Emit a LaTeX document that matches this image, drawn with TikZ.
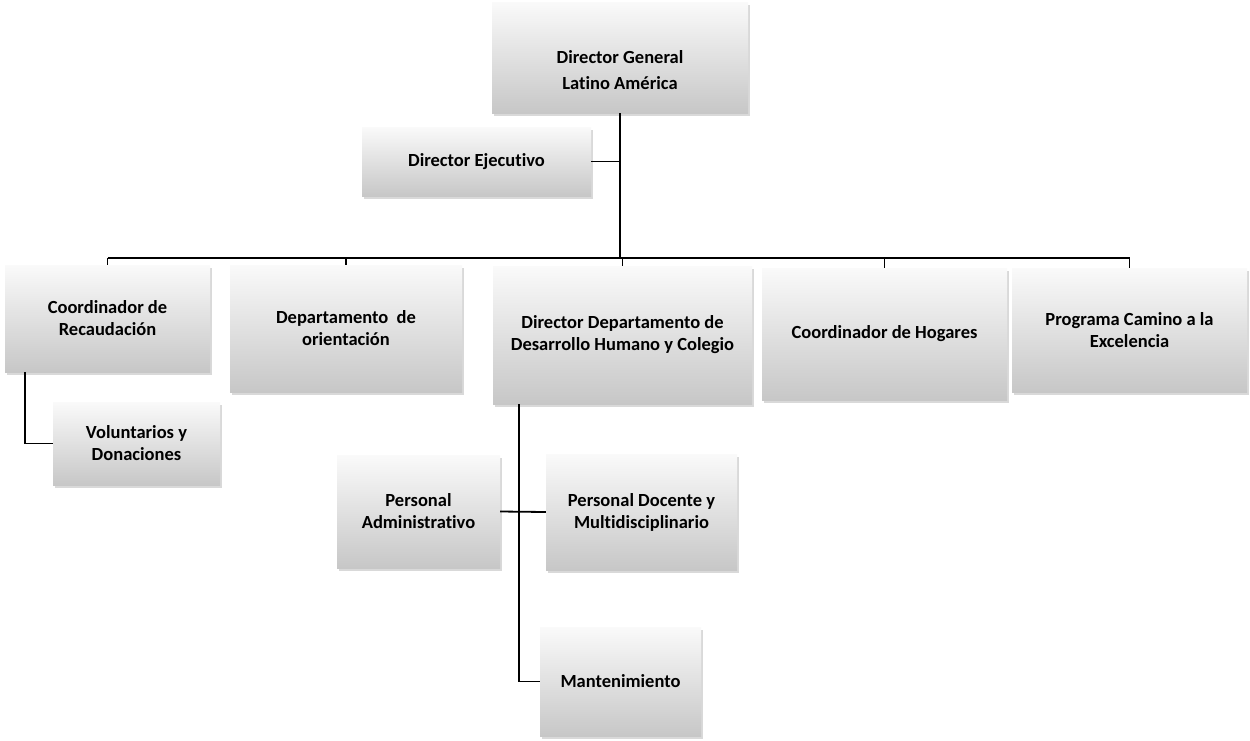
\documentclass[tikz,border=0pt]{standalone}
\usepackage{fontspec}
\setmainfont{Carlito}[Ligatures=NoCommon]
\usetikzlibrary{shadows}
\begin{document}
\begin{tikzpicture}[x=1pt,y=-1pt,
  box/.style={rectangle, draw=none, top color=black!2, bottom color=black!22,
    font=\fontsize{18.5}{22}\selectfont\bfseries, align=center, inner sep=3pt,
    drop shadow={shadow xshift=2pt, shadow yshift=-3pt, opacity=0.25, fill=black!60}},
  link/.style={line width=1.8pt, black}]
\useasboundingbox (0,0) rectangle (1250,740);

\node[box, minimum width=256pt, minimum height=111pt, font=\fontsize{18.5}{26}\selectfont\bfseries] (dg) at (620,57.5) {\rule{0pt}{38pt}Director General\\Latino América};
\node[box, minimum width=229pt, minimum height=69pt] (de) at (476.5,161.5) {Director Ejecutivo};
\node[box, minimum width=205pt, minimum height=107pt] (cr) at (107.5,318.5) {Coordinador de\\Recaudación};
\node[box, minimum width=232pt, minimum height=127pt] (do) at (346,328.5) {Departamento \ de\\orientación};
\node[box, minimum width=259pt, minimum height=138pt] (dd) at (622.5,335) {Director Departamento de\\Desarrollo Humano y Colegio};
\node[box, minimum width=245pt, minimum height=132pt] (ch) at (884.5,334) {Coordinador de Hogares};
\node[box, minimum width=235pt, minimum height=124pt] (pc) at (1129.5,330) {Programa Camino a la\\Excelencia};
\node[box, minimum width=167pt, minimum height=83pt] (vd) at (136.5,443.5) {Voluntarios y\\Donaciones};
\node[box, minimum width=163pt, minimum height=113pt] (pa) at (418.5,511.5) {Personal\\Administrativo};
\node[box, minimum width=191pt, minimum height=116pt] (pd) at (641.5,512) {Personal Docente y\\Multidisciplinario};
\node[box, minimum width=161pt, minimum height=109pt] (mt) at (620.5,681.5) {Mantenimiento};

\coordinate (bus) at (620,258);
\coordinate (crs) at (25,372);
\coordinate (dds) at (519,404);

\draw[link] (dg.south) -- (bus);
\draw[link] (de.east) -- (de.east -| bus);
\draw[link] (cr.north |- bus) -- (pc.north |- bus);
\draw[link] (cr.north |- bus) -- (cr.north);
\draw[link] (do.north |- bus) -- (do.north);
\draw[link] (dd.north |- bus) -- (dd.north);
\draw[link] (ch.north |- bus) -- (ch.north);
\draw[link] (pc.north |- bus) -- (pc.north);
\draw[link] (crs) |- (vd.west);
\draw[link] (dds) |- (mt.west);
\draw[link] (pa.east) -- (pd.west);
\end{tikzpicture}
\end{document}
